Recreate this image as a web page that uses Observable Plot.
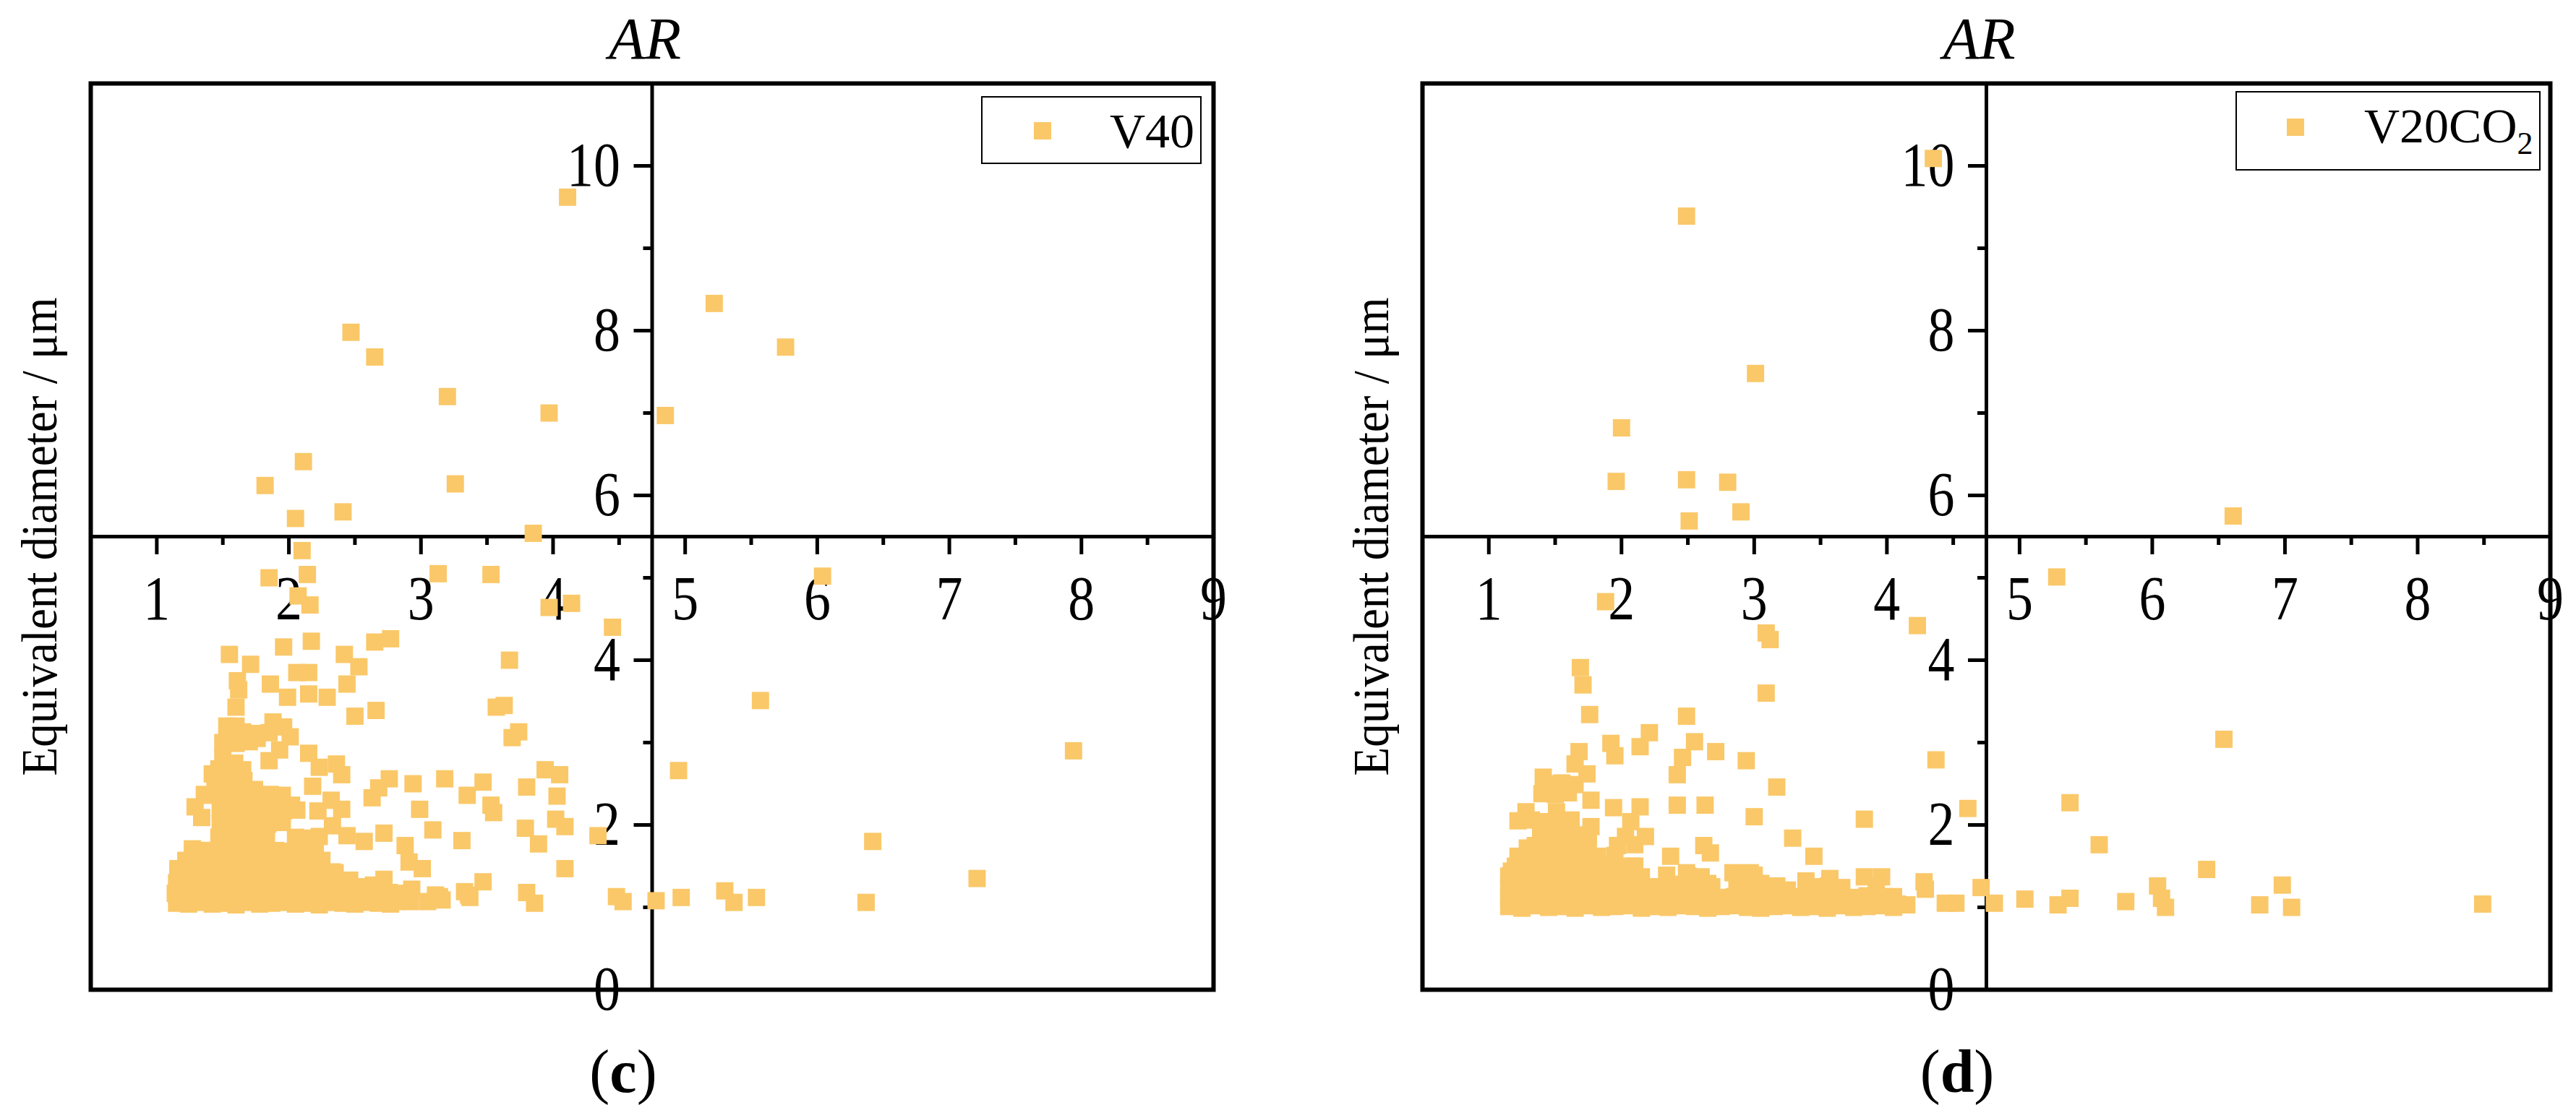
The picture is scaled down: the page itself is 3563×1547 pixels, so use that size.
<!DOCTYPE html>
<html><head><meta charset="utf-8">
<script src="https://cdn.jsdelivr.net/npm/d3@7"></script>
<script src="https://cdn.jsdelivr.net/npm/@observablehq/plot@0.6"></script>
<style>
html,body{margin:0;padding:0;background:#fff;}
#wrap{position:relative;width:3563px;height:1547px;overflow:hidden;font-family:"Liberation Serif","Times New Roman",serif;color:#000;}
.panel{position:absolute;top:0;}
.legend{position:absolute;border:2px solid #000;background:#fff;box-sizing:border-box;}
.legend .sw{position:absolute;width:24px;height:24px;background:#FAC869;}
.legend .lbl{position:absolute;font-size:68px;line-height:1;white-space:nowrap;}
.cap{position:absolute;font-size:84px;line-height:1;transform:translateX(-50%);white-space:nowrap;}
</style></head><body><div id="wrap"></div>
<script>
// ---------- axis values ----------
const AR_DOMAIN = [0.5, 9];
const D_DOMAIN = [0, 11];
const AR_CROSS = [4.75];
const D_CROSS = [5.5];
const AR_MAJOR = [1, 2, 3, 4, 5, 6, 7, 8, 9];
const AR_MINOR = [1.5, 2.5, 3.5, 4.5, 5.5, 6.5, 7.5, 8.5];
const D_MAJOR = [0, 2, 4, 6, 8, 10];
const D_MINOR = [1, 3, 5, 7, 9];
const X_TITLE = "AR";
const Y_TITLE = "Equivalent diameter / μm";
const SERIES = ["V40", "V20CO2"];
const CAPTIONS = ["c", "d"];

// ---------- V40 (AR, equivalent diameter) ----------
const V40_UPPER = [[4.11,9.62],[5.22,8.33],[2.47,7.98],[5.76,7.80],[2.65,7.68],[3.20,7.20],[3.97,7.00],[4.85,6.97],[2.11,6.41],[3.26,6.14],[1.82,6.12],[2.41,5.80],[2.05,5.72],[3.85,5.54]];
const V40_MID = [[2.10,5.33],[2.14,5.04],[1.85,5.00],[3.13,5.05],[3.53,5.04],[6.04,5.02],[2.07,4.78],[2.16,4.67],[4.14,4.69],[3.97,4.64],[4.45,4.40],[2.77,4.26],[2.17,4.23],[2.65,4.22],[1.96,4.16],[1.55,4.07],[2.42,4.07],[3.67,4.00],[1.71,3.95],[2.53,3.92],[2.06,3.85],[2.15,3.85],[1.61,3.75],[1.86,3.71],[2.44,3.71],[1.62,3.64],[2.15,3.59],[1.99,3.55],[2.29,3.55],[5.57,3.51],[3.63,3.45],[1.60,3.43],[3.57,3.43],[2.66,3.39],[2.50,3.32],[1.88,3.25],[1.53,3.20],[1.60,3.20],[1.96,3.19],[3.74,3.13],[2.01,3.07],[3.69,3.06],[1.76,3.05],[1.93,2.91],[7.94,2.90],[2.15,2.87],[1.50,2.83],[1.85,2.78],[1.59,2.75],[2.36,2.74],[2.23,2.70],[3.94,2.67],[4.95,2.66],[1.42,2.62],[2.40,2.61],[4.05,2.61],[2.76,2.56],[3.18,2.56],[1.56,2.54],[1.66,2.54],[3.47,2.52],[2.94,2.50],[2.18,2.47],[3.80,2.46],[2.68,2.45],[1.74,2.43],[1.36,2.37],[3.35,2.36],[4.03,2.35],[2.63,2.33],[2.32,2.30],[1.89,2.25],[2.02,2.24],[3.53,2.24],[1.29,2.22],[2.40,2.19],[2.99,2.19],[2.22,2.17],[3.55,2.15],[1.34,2.09],[4.02,2.07],[2.33,1.99],[4.09,1.98],[3.79,1.96],[3.09,1.94],[2.72,1.90],[2.44,1.87],[4.34,1.87],[3.31,1.81],[2.57,1.80],[6.42,1.80],[2.07,1.78],[3.89,1.77],[2.88,1.75],[2.20,1.71],[1.27,1.71],[1.39,1.69],[2.18,1.59],[2.91,1.55],[3.01,1.47],[4.09,1.47],[1.16,1.47],[2.35,1.42],[7.21,1.35],[2.72,1.34],[2.46,1.33],[3.47,1.31],[2.93,1.22],[3.33,1.19],[3.80,1.18],[5.30,1.20],[3.36,1.15],[3.11,1.15],[3.14,1.13],[4.48,1.13],[4.97,1.12],[5.54,1.12],[3.37,1.12],[3.16,1.09],[4.78,1.08],[2.92,1.07],[2.81,1.07],[4.53,1.07],[5.37,1.06],[6.37,1.06],[3.86,1.05],[3.05,1.07]];
const V40_DENSE = [
[1.15,1.05],[1.24,1.04],[1.33,1.06],[1.42,1.04],[1.51,1.05],[1.60,1.03],[1.69,1.06],[1.78,1.04],[1.87,1.05],[1.96,1.06],[2.05,1.04],[2.14,1.05],[2.23,1.03],[2.32,1.06],[2.41,1.05],[2.50,1.04],[2.59,1.06],[2.68,1.05],[2.77,1.04],
[1.14,1.17],[1.23,1.18],[1.32,1.16],[1.41,1.18],[1.50,1.17],[1.59,1.15],[1.68,1.18],[1.77,1.17],[1.86,1.16],[1.95,1.18],[2.04,1.17],[2.13,1.16],[2.22,1.18],[2.31,1.17],[2.40,1.15],[2.49,1.18],[2.58,1.17],[2.67,1.16],[2.76,1.18],[2.85,1.17],
[1.15,1.30],[1.24,1.29],[1.33,1.31],[1.42,1.30],[1.51,1.28],[1.60,1.31],[1.69,1.30],[1.78,1.29],[1.87,1.31],[1.96,1.30],[2.05,1.28],[2.14,1.31],[2.23,1.30],[2.32,1.29],[2.41,1.31],[2.55,1.25],[2.64,1.27],
[1.16,1.43],[1.25,1.42],[1.34,1.44],[1.43,1.43],[1.52,1.41],[1.61,1.44],[1.70,1.43],[1.79,1.42],[1.88,1.44],[1.97,1.43],[2.06,1.41],[2.15,1.44],[2.24,1.42],[2.33,1.43],
[1.22,1.57],[1.31,1.56],[1.40,1.58],[1.49,1.57],[1.58,1.55],[1.67,1.58],[1.76,1.57],[1.85,1.56],[1.94,1.58],[2.03,1.57],[2.12,1.55],[2.25,1.57],
[1.27,1.68],[1.36,1.69],[1.45,1.67],[1.54,1.68],[1.63,1.70],[1.72,1.68],[1.81,1.67],[1.90,1.69],[1.99,1.68],[2.08,1.70],[2.17,1.68],
[1.47,1.85],[1.56,1.86],[1.65,1.84],[1.74,1.85],[1.83,1.86],[2.05,1.85],[2.14,1.84],[2.23,1.86],
[1.48,2.02],[1.57,2.01],[1.66,2.03],[1.75,2.02],[1.84,2.01],[1.95,2.03],
[1.48,2.18],[1.57,2.19],[1.66,2.17],[1.75,2.18],[1.84,2.19],[1.96,2.17],[2.06,2.18],
[1.40,2.36],[1.49,2.35],[1.58,2.37],[1.67,2.36],[1.76,2.35],[1.86,2.37],[1.95,2.36],
[1.44,2.52],[1.53,2.51],[1.62,2.53],
[1.47,2.68],[1.56,2.69],[1.65,2.67],
[1.50,3.00],[1.60,2.99],[1.70,3.01],
[1.55,3.12],[1.65,3.13],[1.75,3.11],[1.85,3.12]];

// ---------- V20CO2 (AR, equivalent diameter) ----------
const V20_UPPER = [[4.35,10.09],[2.49,9.39],[3.01,7.48],[2.00,6.82],[2.49,6.19],[1.96,6.17],[2.80,6.16],[2.90,5.80],[6.61,5.75],[2.51,5.69]];
const V20_MID = [[5.28,5.01],[1.88,4.71],[4.23,4.42],[3.09,4.33],[3.12,4.25],[1.69,3.91],[1.71,3.70],[3.09,3.60],[1.76,3.34],[2.49,3.32],[2.21,3.12],[6.54,3.04],[2.55,3.01],[1.92,2.99],[2.14,2.95],[2.71,2.89],[1.68,2.89],[1.95,2.84],[2.46,2.82],[4.37,2.79],[2.94,2.78],[1.65,2.74],[1.74,2.62],[2.42,2.61],[1.41,2.58],[3.17,2.46],[1.59,2.44],[1.77,2.30],[5.38,2.27],[2.42,2.24],[2.63,2.24],[2.14,2.22],[1.94,2.21],[4.61,2.20],[1.28,2.16],[1.51,2.16],[3.00,2.10],[3.83,2.07],[2.07,2.04],[1.77,1.98],[1.39,1.86],[2.03,1.86],[2.18,1.86],[3.29,1.84],[1.66,1.77],[5.60,1.76],[1.97,1.75],[2.62,1.75],[1.29,1.72],[2.67,1.66],[2.37,1.62],[3.45,1.62],[1.28,1.60],[2.08,1.50],[6.41,1.46],[1.17,1.44],[2.49,1.42],[2.84,1.42],[2.97,1.42],[2.34,1.39],[3.83,1.37],[3.96,1.37],[3.57,1.35],[3.39,1.32],[4.28,1.31],[6.98,1.27],[3.17,1.26],[6.04,1.26],[2.68,1.25],[4.71,1.24],[4.29,1.22],[3.98,1.13],[5.38,1.11],[6.07,1.11],[5.04,1.10],[5.80,1.07],[3.17,1.07],[4.52,1.05],[4.81,1.05],[4.44,1.05],[4.08,1.04],[8.49,1.04],[5.29,1.03],[6.81,1.03],[6.10,1.00],[7.05,1.00]];
const V20_DENSE = [
[1.15,1.01],[1.25,0.99],[1.35,1.02],[1.45,1.00],[1.55,1.01],[1.65,0.99],[1.75,1.02],[1.85,1.00],[1.95,1.01],[2.05,1.02],[2.15,0.99],[2.25,1.01],[2.35,1.00],[2.45,1.02],[2.55,1.01],[2.65,0.99],[2.75,1.01],[2.85,1.02],[2.95,1.00],[3.05,0.99],[3.15,1.01],[3.25,1.02],[3.35,1.00],[3.45,1.01],[3.55,0.99],[3.65,1.02],[3.75,1.00],[3.85,1.01],[3.95,1.02],[4.05,1.00],[4.15,1.03],
[1.15,1.12],[1.25,1.13],[1.35,1.11],[1.45,1.13],[1.55,1.12],[1.65,1.14],[1.75,1.12],[1.85,1.11],[1.95,1.13],[2.05,1.12],[2.15,1.14],[2.25,1.12],[2.35,1.11],[2.45,1.13],[2.55,1.12],[2.65,1.14],[2.75,1.12],[2.85,1.13],[2.95,1.11],[3.05,1.12],[3.15,1.14],[3.25,1.12],[3.35,1.13],[3.45,1.11],[3.55,1.12],[3.65,1.13],[3.75,1.12],[3.85,1.14],[3.95,1.12],[4.05,1.13],
[1.15,1.25],[1.25,1.26],[1.35,1.24],[1.45,1.25],[1.55,1.26],[1.65,1.24],[1.75,1.25],[1.85,1.26],[1.95,1.25],[2.05,1.24],[2.15,1.26],[2.25,1.25],[2.35,1.24],[2.47,1.28],[2.56,1.27],[2.65,1.29],[2.87,1.30],[2.96,1.31],[3.05,1.29],[3.25,1.21],[3.47,1.25],[3.56,1.26],[3.66,1.24],[3.92,1.26],
[1.15,1.38],[1.25,1.37],[1.35,1.39],[1.45,1.38],[1.55,1.37],[1.65,1.39],[1.75,1.38],[1.85,1.37],[1.95,1.39],[2.05,1.38],[2.15,1.37],[2.50,1.38],[2.60,1.37],[2.90,1.40],[3.00,1.39],
[1.20,1.50],[1.30,1.51],[1.40,1.49],[1.50,1.50],[1.60,1.51],[1.70,1.49],[1.80,1.50],[1.90,1.51],[2.00,1.49],[2.10,1.50],
[1.22,1.62],[1.32,1.63],[1.42,1.61],[1.52,1.62],[1.62,1.63],[1.72,1.61],[1.82,1.62],[1.95,1.63],
[1.35,1.75],[1.45,1.76],[1.55,1.74],[1.75,1.75],[2.10,1.76],
[1.45,1.88],[1.55,1.89],[1.65,1.87],[1.75,1.88],
[1.22,2.05],[1.32,2.06],[1.42,2.04],[1.52,2.05],[1.62,2.06],
[1.40,2.38],[1.50,2.37],[1.60,2.39],
[1.45,2.50],[1.55,2.51],[1.65,2.49]];

// ---------- drawing ----------
const COLOR = "#FAC869";
const toRows = (arrs) => arrs.flat().map(([ar, d]) => ({ar, d}));

function squeeze(nodes, sx) {
  nodes.forEach(t => {
    const tr = t.getAttribute("transform");
    if (tr && tr.includes("translate")) t.setAttribute("transform", tr + ` scale(${sx},1)`);
  });
}

function makePanel(points, innerW) {
  const mL = 125, mT = 115, mB = 178, mR = 40, H = 1547;
  const innerH = H - mT - mB;
  const svg = Plot.plot({
    width: mL + innerW + mR, height: H,
    marginLeft: mL, marginRight: mR, marginTop: mT, marginBottom: mB,
    x: {domain: AR_DOMAIN},
    y: {domain: D_DOMAIN},
    style: {fontFamily: '"Liberation Serif","Times New Roman",serif', background: "transparent", overflow: "visible", color: "#000"},
    marks: [
      Plot.frame({strokeWidth: 6}),
      Plot.ruleX(AR_CROSS, {strokeWidth: 5}),
      Plot.ruleY(D_CROSS, {strokeWidth: 5}),
      Plot.axisX({ticks: AR_MAJOR, anchor: "bottom", dy: -innerH / 2, tickSize: 25, tickPadding: 28, strokeWidth: 5, fontSize: 86, label: null, tickFormat: d3.format("d")}),
      Plot.axisX({ticks: AR_MINOR, anchor: "bottom", dy: -innerH / 2, tickSize: 12, strokeWidth: 5, text: null, label: null}),
      Plot.axisY({ticks: D_MAJOR, anchor: "left", dx: innerW / 2, tickSize: 25, tickPadding: 19, strokeWidth: 5, fontSize: 86, label: null, tickFormat: d3.format("d")}),
      Plot.axisY({ticks: D_MINOR, anchor: "left", dx: innerW / 2, tickSize: 12, strokeWidth: 5, text: null, label: null}),
      Plot.dot(points, {x: "ar", y: "d", symbol: "square", r: 13.5, fill: COLOR}),
      Plot.text([X_TITLE], {frameAnchor: "top", lineAnchor: "top", textAnchor: "middle", dy: -93, dx: -10, fontStyle: "italic", fontSize: 82}),
      Plot.text([Y_TITLE], {frameAnchor: "left", lineAnchor: "middle", textAnchor: "middle", rotate: -90, dx: -70, fontSize: 70})
    ]
  });
  squeeze(svg.querySelectorAll('g[aria-label$="tick label"] text'), 0.86);
  squeeze([...svg.querySelectorAll("text")].filter(t => t.textContent === Y_TITLE), 0.93);
  return svg;
}

const wrap = document.getElementById("wrap");
const panels = [
  {points: toRows([V40_UPPER, V40_MID, V40_DENSE]), innerW: 1553, left: 0},
  {points: toRows([V20_UPPER, V20_MID, V20_DENSE]), innerW: 1560, left: 1842}
];
panels.forEach(p => {
  const svg = makePanel(p.points, p.innerW);
  svg.classList.add("panel");
  svg.style.left = p.left + "px";
  wrap.appendChild(svg);
});

// legends (inside plot areas, top right)
function legend(left, top, w, h, swX, swY, html) {
  const box = document.createElement("div");
  box.className = "legend";
  Object.assign(box.style, {left: left + "px", top: top + "px", width: w + "px", height: h + "px"});
  const sw = document.createElement("div");
  sw.className = "sw";
  Object.assign(sw.style, {left: swX + "px", top: swY + "px"});
  const lbl = document.createElement("div");
  lbl.className = "lbl";
  Object.assign(lbl.style, {left: "176px", top: "12px"});
  lbl.innerHTML = html;
  box.append(sw, lbl);
  wrap.appendChild(box);
}
legend(1357, 133, 305, 94, 71, 34, SERIES[0]);
legend(3092, 126, 422, 110, 69, 36, 'V20CO<span style="font-size:44px;position:relative;top:16px">2</span>');

// captions
[[862, CAPTIONS[0]], [2707, CAPTIONS[1]]].forEach(([cx, c]) => {
  const d = document.createElement("div");
  d.className = "cap";
  Object.assign(d.style, {left: cx + "px", top: "1441px"});
  d.innerHTML = "(<b>" + c + "</b>)";
  wrap.appendChild(d);
});
</script></body></html>
